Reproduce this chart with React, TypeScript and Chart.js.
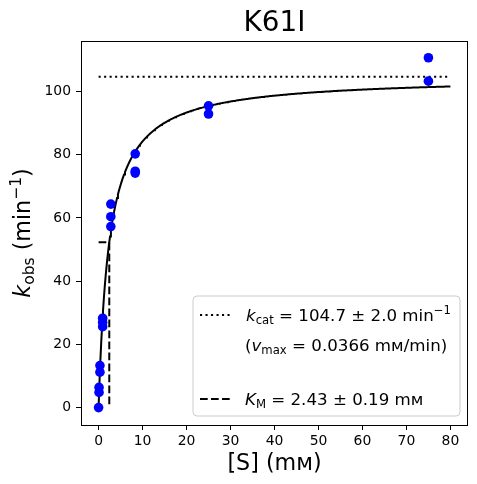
import { useEffect, useRef } from "react";
import { Chart, registerables } from "chart.js";

Chart.register(...registerables);

// measured substrate concentrations (mM) and observed rates (min^-1)
const pointS = [0, 0.103, 0.103, 0.309, 0.309, 0.926, 0.926, 0.926, 2.78, 2.78, 2.78, 8.33, 8.33, 8.33, 25, 25, 75, 75];
const pointK = [0, 4.8, 6.4, 11.2, 13.3, 25.6, 27.0, 28.3, 57.3, 60.4, 64.4, 74.2, 74.8, 80.3, 92.9, 95.5, 103.3, 110.7];

// fitted Michaelis-Menten parameters (from the legend)
const kcat = 104.7;
const KM = 2.43;
const fitRange = [0, 80];

const xTicks = [0, 10, 20, 30, 40, 50, 60, 70, 80];
const yTicks = [0, 20, 40, 60, 80, 100];

const FONT = '"DejaVu Sans"';

type Seg = { t: string; it?: boolean; sub?: boolean; sup?: boolean };

const fontOf = (s: Seg, size: number) =>
  `${s.it ? "italic " : ""}${s.sub || s.sup ? size * 0.7 : size}px ${FONT}`;

function drawRich(ctx: CanvasRenderingContext2D, segs: Seg[], x: number, y: number, size: number, align: "left" | "center") {
  let w = 0;
  segs.forEach((s) => {
    ctx.font = fontOf(s, size);
    w += ctx.measureText(s.t).width;
  });
  let cx = align === "center" ? x - w / 2 : x;
  ctx.textAlign = "left";
  ctx.textBaseline = "alphabetic";
  ctx.fillStyle = "#000";
  segs.forEach((s) => {
    ctx.font = fontOf(s, size);
    const dy = s.sub ? size * 0.2 : s.sup ? -size * 0.42 : 0;
    ctx.fillText(s.t, cx, y + dy);
    cx += ctx.measureText(s.t).width;
  });
}

const decorations = {
  id: "decorations",
  afterDraw(chart: Chart) {
    const ctx = chart.ctx;
    const a = chart.chartArea;
    ctx.save();

    // axes box
    ctx.strokeStyle = "#000";
    ctx.lineWidth = 1;
    ctx.setLineDash([]);
    ctx.strokeRect(a.left + 0.5, a.top + 0.5, a.right - a.left - 1, a.bottom - a.top);

    // title and axis labels
    drawRich(ctx, [{ t: "K61I" }], (a.left + a.right) / 2, 31, 27.8, "center");
    drawRich(ctx, [{ t: "[S] (mᴍ)" }], (a.left + a.right) / 2, 470, 22.2, "center");
    ctx.save();
    ctx.translate(30, (a.top + a.bottom) / 2);
    ctx.rotate(-Math.PI / 2);
    drawRich(ctx, [{ t: "k", it: true }, { t: "obs", sub: true }, { t: " (min" }, { t: "−1", sup: true }, { t: ")" }], 0, 0, 22.2, "center");
    ctx.restore();

    // legend frame
    const lx = 193, ly = 296, lw = 267, lh = 120, r = 4;
    ctx.beginPath();
    ctx.moveTo(lx + r, ly);
    ctx.arcTo(lx + lw, ly, lx + lw, ly + lh, r);
    ctx.arcTo(lx + lw, ly + lh, lx, ly + lh, r);
    ctx.arcTo(lx, ly + lh, lx, ly, r);
    ctx.arcTo(lx, ly, lx + lw, ly, r);
    ctx.closePath();
    ctx.fillStyle = "rgba(255,255,255,0.8)";
    ctx.fill();
    ctx.strokeStyle = "#cccccc";
    ctx.stroke();

    // legend handles
    ctx.strokeStyle = "#000";
    ctx.lineWidth = 2;
    ctx.setLineDash([2.1, 3.4]);
    ctx.beginPath();
    ctx.moveTo(200, 315);
    ctx.lineTo(233, 315);
    ctx.stroke();
    ctx.setLineDash([7.7, 3.3]);
    ctx.beginPath();
    ctx.moveTo(200, 399);
    ctx.lineTo(233, 399);
    ctx.stroke();
    ctx.setLineDash([]);

    // legend texts
    drawRich(ctx, [{ t: "k", it: true }, { t: "cat", sub: true }, { t: ` = ${kcat} ± 2.0 min` }, { t: "−1", sup: true }], 246, 321, 16.67, "left");
    drawRich(ctx, [{ t: "(" }, { t: "v", it: true }, { t: "max", sub: true }, { t: " = 0.0366 mᴍ/min)" }], 245, 351, 16.67, "left");
    drawRich(ctx, [{ t: "K", it: true }, { t: "M", sub: true }, { t: ` = ${KM} ± 0.19 mᴍ` }], 245, 405, 16.67, "left");

    ctx.restore();
  },
};

const KineticsChart = () => {
  const canvasRef = useRef<HTMLCanvasElement | null>(null);

  useEffect(() => {
    if (!canvasRef.current) return;

    // fitted curve v = kcat*S/(KM+S), sampled along the fit range
    const fit: { x: number; y: number }[] = [];
    for (let i = 0; i <= 400; i++) {
      const s = fitRange[0] + ((fitRange[1] - fitRange[0]) * i) / 400;
      fit.push({ x: s, y: (kcat * s) / (KM + s) });
    }

    const tickFont = { family: FONT, size: 13.9 };

    const chart = new Chart(canvasRef.current, {
      type: "scatter",
      data: {
        datasets: [
          {
            data: pointS.map((s, i) => ({ x: s, y: pointK[i] })),
            backgroundColor: "#0000ff",
            borderColor: "#0000ff",
            pointRadius: 4.8,
            borderWidth: 0,
          },
          {
            data: fit,
            showLine: true,
            borderColor: "#000",
            borderWidth: 2,
            pointRadius: 0,
          },
          {
            data: [
              { x: fitRange[0], y: kcat },
              { x: fitRange[1], y: kcat },
            ],
            showLine: true,
            borderColor: "#000",
            borderWidth: 2,
            borderDash: [2.1, 3.4],
            pointRadius: 0,
          },
          {
            data: [
              { x: 0, y: kcat / 2 },
              { x: KM, y: kcat / 2 },
              { x: KM, y: 0 },
            ],
            showLine: true,
            borderColor: "#000",
            borderWidth: 2,
            borderDash: [7.7, 3.3],
            pointRadius: 0,
          },
        ],
      },
      options: {
        animation: false,
        responsive: false,
        devicePixelRatio: 1,
        layout: { padding: { top: 41, right: 9, left: 0, bottom: 0 } },
        plugins: { legend: { display: false }, tooltip: { enabled: false } },
        scales: {
          x: {
            type: "linear",
            min: -4,
            max: 84,
            afterBuildTicks: (s) => {
              s.ticks = xTicks.map((v) => ({ value: v }));
            },
            afterFit: (s) => {
              s.height = 59;
            },
            ticks: { font: tickFont, color: "#000", padding: 3, maxRotation: 0, autoSkip: false },
            grid: { drawOnChartArea: false, color: "#000", tickLength: 5 },
            border: { display: false },
          },
          y: {
            type: "linear",
            min: -5.5,
            max: 116,
            afterBuildTicks: (s) => {
              s.ticks = yTicks.map((v) => ({ value: v }));
            },
            afterFit: (s) => {
              s.width = 81;
            },
            ticks: { font: tickFont, color: "#000", padding: 5, autoSkip: false },
            grid: { drawOnChartArea: false, color: "#000", tickLength: 5 },
            border: { display: false },
          },
        },
      },
      plugins: [decorations],
    });

    return () => {
      chart.destroy();
    };
  }, []);

  return (
    <div style={{ position: "fixed", left: 0, top: 0, width: 477, height: 484, background: "#fff" }}>
      <canvas ref={canvasRef} width={477} height={484} style={{ width: 477, height: 484 }} />
    </div>
  );
};

export default KineticsChart;
